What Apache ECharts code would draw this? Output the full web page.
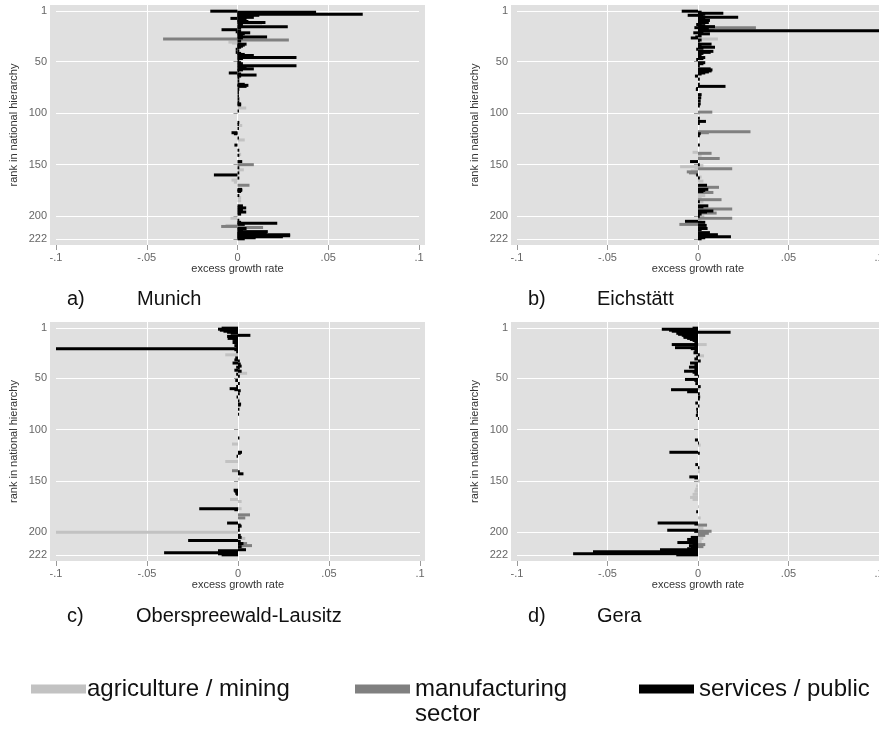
<!DOCTYPE html>
<html>
<head>
<meta charset="utf-8">
<script src="https://cdn.jsdelivr.net/npm/echarts@6/dist/echarts.min.js"></script>
<style>
html,body{margin:0;padding:0;background:#fff;}
#chart{width:879px;height:735px;}
</style>
</head>
<body>
<div id="chart"></div>
<script>
// ---------- data: [rank, excess growth rate] ----------
const sectorNames = ['agriculture / mining', 'manufacturing', 'services / public'];
const rankTickLabels = ['1', '50', '100', '150', '200', '222'];
const xTickValues = [-0.1, -0.05, 0, 0.05, 0.1];
const panelTitles = [['a)', 'Munich'], ['b)', 'Eichstätt'], ['c)', 'Oberspreewald-Lausitz'], ['d)', 'Gera']];

// a) Munich
const munichAgri = [[13,0.0135],[31,-0.005],[32,-0.003],[95,0.0048],[112,0.0026],[126,0.004],[140,0.002],[155,0.0035],[165,-0.0033],[167,-0.002],[182,0.002],[185,0.002],[202,-0.0039],[209,-0.0066]];
const munichManuf = [[28,-0.041],[29,0.0283],[150,0.009],[170,0.0066],[210,-0.009],[211,0.0141]];
const munichServ = [[1,-0.015],[2,0.0433],[3,0.010],[4,0.069],[5,0.012],[6,0.004],[7,0.009],[8,-0.0039],[9,0.005],[10,0.003],[11,0.006],[12,0.0154],[14,0.003],[16,0.0277],[17,0.002],[19,-0.0088],[20,0.002],[21,-0.001],[22,0.007],[23,0.004],[24,0.003],[26,0.0163],[27,0.003],[30,0.002],[33,0.005],[34,0.004],[35,0.003],[36,0.002],[37,0.001],[38,-0.001],[40,0.001],[41,-0.001],[42,0.002],[43,0.004],[44,0.009],[46,0.0325],[47,0.003],[49,0.001],[51,0.002],[52,0.003],[54,0.0325],[55,0.005],[57,0.009],[58,0.003],[59,0.001],[61,-0.0048],[62,0.002],[63,0.0105],[64,0.002],[66,0.001],[69,0.001],[72,0.004],[73,0.006],[74,0.005],[77,0.001],[80,0.0008],[83,0.0008],[86,0.001],[89,0.001],[91,0.002],[92,0.002],[98,0.0008],[109,0.001],[111,0.0008],[115,0.0008],[119,-0.0033],[120,-0.002],[124,0.0008],[131,-0.0017],[136,0.001],[141,0.001],[147,0.0026],[153,0.001],[158,0.001],[160,-0.013],[163,0.001],[174,0.0026],[175,0.0026],[176,0.002],[180,0.001],[190,0.003],[192,0.0048],[194,0.003],[196,0.0048],[198,0.002],[204,0.001],[206,0.002],[207,0.0219],[208,0.004],[212,0.005],[213,0.003],[215,0.0167],[216,0.016],[217,0.016],[218,0.029],[219,0.029],[220,0.025],[221,0.010],[222,0.004]];

// b) Eichstätt
const eichAgri = [[28,0.011],[66,0.001],[100,0.001],[138,-0.003],[141,0.002],[151,0.003],[152,-0.0099],[153,-0.002],[156,-0.004],[159,-0.002],[162,0.002],[166,0.003],[180,0.004],[182,0.002],[186,0.003],[200,0.0035],[203,0.002],[210,0.003],[214,0.002]];
const eichManuf = [[17,0.032],[18,0.009],[99,0.0079],[118,0.029],[119,0.006],[139,0.0075],[144,0.012],[154,0.0189],[157,-0.0062],[158,-0.005],[172,0.0116],[177,0.0085],[184,0.013],[193,0.0189],[197,0.0103],[202,0.0189],[208,-0.0103]];
const eichServ = [[1,-0.009],[2,0.002],[3,0.014],[4,0.004],[5,-0.0057],[6,0.003],[7,0.0222],[8,0.004],[9,0.002],[10,0.0066],[11,0.003],[12,0.006],[13,0.002],[14,-0.001],[15,0.004],[16,0.0094],[17,-0.002],[18,0.006],[20,0.11],[21,0.003],[22,-0.0026],[23,0.0066],[25,0.002],[26,-0.0015],[27,-0.004],[29,0.002],[30,0.001],[33,0.0075],[34,0.002],[36,0.0094],[37,0.003],[38,-0.001],[40,0.0085],[41,0.007],[42,0.003],[44,0.002],[46,0.004],[47,0.003],[48,-0.001],[51,0.004],[52,0.003],[54,0.001],[57,0.007],[58,0.008],[59,0.0075],[60,0.006],[61,0.004],[62,0.002],[64,-0.0017],[67,0.001],[72,0.001],[74,0.0152],[76,-0.001],[77,-0.0012],[82,0.002],[85,0.0018],[88,0.0015],[91,0.0015],[93,0.001],[105,0.001],[108,0.0044],[110,0.001],[120,0.0015],[122,0.001],[131,0.001],[147,-0.0044],[150,0.001],[160,-0.001],[163,0.001],[170,0.005],[174,0.0057],[175,0.004],[176,0.003],[186,0.001],[190,0.0057],[191,0.003],[195,0.0085],[196,0.005],[198,0.002],[200,0.001],[205,-0.0072],[206,0.004],[209,0.0048],[212,0.0053],[213,0.002],[216,0.0066],[217,0.004],[218,0.011],[219,0.003],[220,0.0182],[221,0.004],[222,0.002]];

// c) Oberspreewald-Lausitz
const oslAgri = [[27,-0.007],[45,0.005],[70,0.001],[114,-0.0033],[131,-0.007],[148,0.001],[168,-0.0044],[170,0.002],[177,0.002],[200,-0.1],[206,0.004],[215,0.003]];
const oslManuf = [[140,-0.0033],[183,0.0066],[186,0.004],[211,0.005],[213,0.0077]];
const oslServ = [[1,-0.009],[2,-0.011],[3,-0.010],[4,-0.008],[5,-0.006],[6,-0.004],[8,0.0068],[9,-0.006],[10,-0.005],[11,-0.0057],[12,-0.003],[13,-0.002],[15,-0.003],[16,-0.001],[18,-0.002],[19,-0.001],[21,-0.1],[22,-0.002],[24,-0.001],[30,-0.0015],[32,-0.002],[33,0.001],[35,-0.003],[36,0.0015],[38,0.002],[39,-0.001],[40,0.001],[42,-0.002],[43,0.002],[46,-0.001],[48,0.001],[52,-0.0015],[55,0.001],[58,-0.001],[60,-0.0046],[61,-0.002],[62,0.0015],[65,0.001],[68,-0.0008],[72,0.0008],[75,0.0017],[76,0.0015],[80,0.0008],[85,0.0006],[108,0.0008],[122,0.0022],[123,0.0015],[126,-0.0008],[141,0.001],[143,0.003],[159,-0.0024],[160,-0.002],[162,-0.0015],[163,-0.001],[177,-0.0213],[178,-0.002],[191,-0.006],[193,0.0015],[194,0.002],[195,0.001],[198,0.001],[203,0.0015],[205,0.002],[208,-0.0274],[209,0.0015],[211,0.003],[214,0.002],[217,0.0044],[218,-0.011],[219,-0.011],[220,-0.0406],[221,-0.011],[222,-0.009]];

// d) Gera
const geraAgri = [[17,0.0048],[28,0.0033],[60,0.001],[115,0.0015],[141,0.001],[150,0.001],[155,-0.001],[158,-0.0015],[160,-0.002],[163,-0.003],[166,-0.0044],[168,-0.003],[175,0.0005],[186,0.0015],[196,0.003],[206,0.003],[209,0.002]];
const geraManuf = [[193,0.005],[199,0.0075],[201,0.006],[203,0.004],[212,0.004],[214,0.003]];
const geraServ = [[1,-0.003],[2,-0.020],[3,-0.016],[4,-0.0145],[5,0.018],[6,-0.012],[7,-0.011],[8,-0.009],[9,-0.008],[10,-0.008],[11,-0.006],[12,-0.0045],[13,-0.003],[15,-0.002],[17,-0.0145],[18,-0.002],[20,-0.0127],[21,-0.004],[23,-0.002],[25,-0.0025],[27,0.001],[29,-0.001],[31,-0.002],[33,0.0015],[35,-0.0044],[37,-0.002],[39,-0.005],[41,-0.002],[43,-0.0077],[44,-0.003],[46,-0.002],[48,0.0005],[51,-0.0072],[52,-0.002],[55,-0.0015],[58,0.0015],[61,-0.0149],[62,-0.004],[63,-0.006],[65,0.001],[68,0.0012],[70,0.001],[74,-0.0015],[77,0.0008],[80,-0.001],[83,-0.0008],[86,-0.0012],[89,0.0005],[110,-0.0017],[113,0.0005],[122,-0.0158],[123,0.001],[134,-0.0015],[137,0.0008],[146,-0.0048],[147,-0.002],[180,-0.001],[191,-0.0223],[192,-0.002],[198,-0.017],[199,-0.002],[205,-0.004],[207,-0.006],[208,-0.005],[210,-0.0114],[211,-0.003],[213,-0.005],[215,-0.004],[216,-0.006],[217,-0.021],[218,-0.021],[219,-0.058],[220,-0.058],[221,-0.069],[222,-0.012]];

const panelData = [
  [munichAgri, munichManuf, munichServ],
  [eichAgri, eichManuf, eichServ],
  [oslAgri, oslManuf, oslServ],
  [geraAgri, geraManuf, geraServ]
];

// ---------- layout / style ----------
const FONT = "'Liberation Sans', Arial, sans-serif";
const sectorColors = ['#c2c2c2', '#808080', '#000000'];
const rankMin = -5, rankMax = 228;
const rankCats = [];
for (let r = rankMin; r <= rankMax; r++) rankCats.push(String(r));
const showRank = (idx, val) => rankTickLabels.indexOf(String(val)) >= 0;

const grids = [
  {left: 56, top: 5, width: 363, height: 240},
  {left: 517, top: 5, width: 362, height: 240},
  {left: 56, top: 322, width: 364, height: 239},
  {left: 517, top: 322, width: 362, height: 239}
];
const bgRects = [
  {x: 50, y: 5, w: 375, h: 240},
  {x: 511, y: 5, w: 375, h: 240},
  {x: 50, y: 322, w: 375, h: 239},
  {x: 511, y: 322, w: 375, h: 239}
];
const labelPos = [
  {x1: 67, x2: 137, y: 299},
  {x1: 528, x2: 597, y: 299},
  {x1: 67, x2: 136, y: 616},
  {x1: 528, x2: 597, y: 616}
];

function fmtX(v) {
  if (Math.abs(v) < 1e-9) return '0';
  const a = Math.round(Math.abs(v) * 100) / 100;
  return (v < 0 ? '-' : '') + String(a).replace(/^0/, '');
}

const xAxes = grids.map((g, i) => ({
  type: 'value', gridIndex: i, min: -0.1, max: 0.1, interval: 0.05,
  name: 'excess growth rate', nameLocation: 'middle', nameGap: 17,
  nameTextStyle: {fontSize: 11, color: '#333', fontFamily: FONT},
  axisLine: {show: false},
  axisTick: {show: true, length: 5, lineStyle: {color: '#999'}},
  axisLabel: {fontSize: 11, color: '#666', fontFamily: FONT, margin: 7, formatter: fmtX},
  splitLine: {show: true, lineStyle: {color: ['rgba(0,0,0,0)', '#ffffff', '#ffffff', '#ffffff', 'rgba(0,0,0,0)'], width: 1}}
}));

const yAxes = grids.map((g, i) => ({
  type: 'category', gridIndex: i, data: rankCats, inverse: true, boundaryGap: false,
  offset: 6,
  name: 'rank in national hierarchy', nameLocation: 'middle', nameGap: 31, nameRotate: 90,
  nameTextStyle: {fontSize: 11, color: '#333', fontFamily: FONT},
  axisLine: {show: false},
  axisTick: {show: true, interval: showRank, length: 4, lineStyle: {color: '#999'}},
  axisLabel: {show: true, interval: showRank, fontSize: 11, color: '#666', fontFamily: FONT, margin: 3},
  splitLine: {show: true, interval: showRank, lineStyle: {color: '#ffffff', width: 1}}
}));

const series = [];
panelData.forEach((sectors, p) => {
  sectors.forEach((arr, s) => {
    series.push({
      type: 'bar', name: sectorNames[s], xAxisIndex: p, yAxisIndex: p,
      data: arr.map(d => [d[1], String(d[0])]),
      barWidth: 3, barGap: '-100%',
      itemStyle: {color: sectorColors[s]},
      clip: true, z: 2 + s
    });
  });
});

const graphics = [];
bgRects.forEach(r => graphics.push({type: 'rect', z: -10, silent: true,
  shape: {x: r.x, y: r.y, width: r.w, height: r.h}, style: {fill: '#e0e0e0'}}));
panelTitles.forEach((t, i) => {
  const lp = labelPos[i];
  graphics.push({type: 'text', x: lp.x1, y: lp.y, style: {text: t[0], font: '20px ' + FONT, fill: '#111', textVerticalAlign: 'middle', verticalAlign: 'middle'}});
  graphics.push({type: 'text', x: lp.x2, y: lp.y, style: {text: t[1], font: '20px ' + FONT, fill: '#111', textVerticalAlign: 'middle', verticalAlign: 'middle'}});
});
graphics.push({type: 'text', x: 415, y: 714, style: {text: 'sector', font: '24px ' + FONT, fill: '#111', textVerticalAlign: 'middle', verticalAlign: 'middle'}});

const legendBase = {
  orient: 'horizontal', top: 672, icon: 'rect', itemWidth: 55, itemHeight: 9, itemGap: 0,
  selectedMode: false,
  textStyle: {fontSize: 24, color: '#111', fontFamily: FONT, padding: [0, 0, 0, 0]}
};
const legends = [
  Object.assign({}, legendBase, {left: 26, data: [sectorNames[0]], textStyle: Object.assign({}, legendBase.textStyle, {padding: [0,0,0,-4]})}),
  Object.assign({}, legendBase, {left: 350, data: [sectorNames[1]]}),
  Object.assign({}, legendBase, {left: 634, data: [sectorNames[2]]})
];

const chart = echarts.init(document.getElementById('chart'), null, {renderer: 'canvas'});
chart.setOption({
  animation: false,
  textStyle: {fontFamily: FONT},
  grid: grids.map(g => Object.assign({containLabel: false, outerBoundsMode: 'none'}, g)),
  xAxis: xAxes,
  yAxis: yAxes,
  legend: legends,
  graphic: graphics,
  series: series
});
</script>
</body>
</html>
